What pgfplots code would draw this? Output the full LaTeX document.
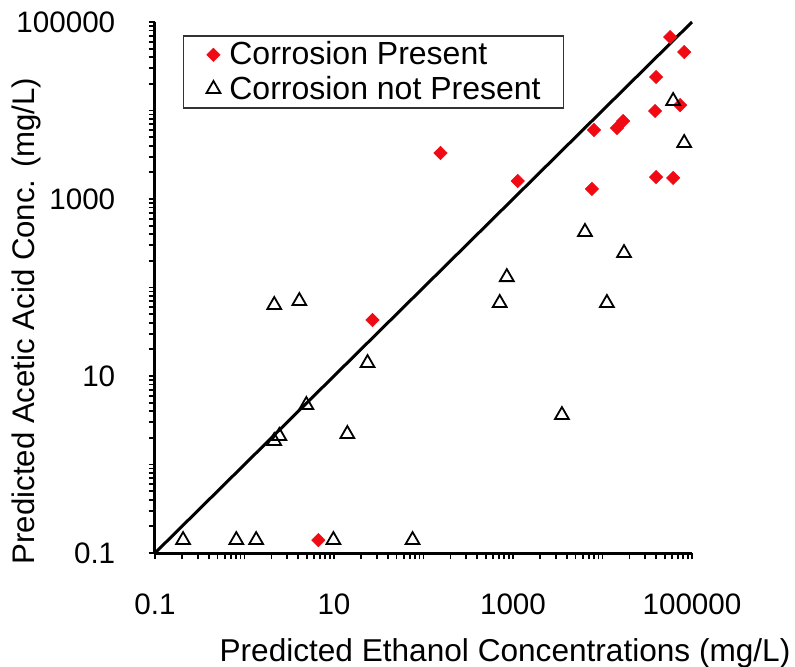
\documentclass[border=0pt]{standalone}
\usepackage{fontspec}
\setmainfont{Liberation Sans}
\usepackage{pgfplots}
\pgfplotsset{compat=1.18}
\definecolor{cred}{RGB}{240,10,20}
\begin{document}
\begin{tikzpicture}
\begin{axis}[
  name=ax,
  scale only axis,
  width=268.5bp, height=265.5bp,
  xmode=log, ymode=log,
  xmin=0.1, xmax=100000, ymin=0.1, ymax=100000,
  axis lines=left,
  axis line style={line width=1.5bp, -},
  clip=false,
  tick align=outside,
  major tick length=3.2bp, minor tick length=3.2bp,
  tick style={black, line width=0.9bp},
  xtick={0.1,1,10,100,1000,10000,100000},
  ytick={0.1,1,10,100,1000,10000,100000},
  xticklabels={0.1,,10,,1000,,100000},
  yticklabels={0.1,,10,,1000,,100000},
  minor xtick={0.2,0.3,0.4,0.5,0.6,0.7,0.8,0.9,2,3,4,5,6,7,8,9,20,30,40,50,60,70,80,90,200,300,400,500,600,700,800,900,2000,3000,4000,5000,6000,7000,8000,9000,20000,30000,40000,50000,60000,70000,80000,90000},
  minor ytick={0.2,0.3,0.4,0.5,0.6,0.7,0.8,0.9,2,3,4,5,6,7,8,9,20,30,40,50,60,70,80,90,200,300,400,500,600,700,800,900,2000,3000,4000,5000,6000,7000,8000,9000,20000,30000,40000,50000,60000,70000,80000,90000},
  tick label style={font=\fontsize{14.8bp}{17bp}\selectfont},
  xticklabel style={anchor=north, inner sep=0pt, yshift=-17bp},
  yticklabel style={anchor=east, inner sep=0pt, xshift=-16.5bp},
  xlabel={Predicted Ethanol Concentrations (mg/L)},
  ylabel={Predicted Acetic Acid Conc. (mg/L)},
  xlabel style={font=\fontsize{15.8bp}{18bp}\selectfont, at={(axis description cs:0.6518,-0.2034)}, anchor=base},
  ylabel style={font=\fontsize{15.6bp}{18bp}\selectfont, at={(axis description cs:-0.2235,0.4369)}, anchor=base},
  legend style={at={(axis description cs:0.0521,0.9755)}, anchor=north west,
    draw=black!80, line width=0.75bp, font=\fontsize{16bp}{18bp}\selectfont,
    inner xsep=9.5bp, inner ysep=1bp, row sep=0bp,
    /tikz/every odd column/.append style={column sep=2.5bp}},
  legend cell align=left,
  legend image code/.code={\path (-5bp,0bp) (0bp,0bp); \draw[#1] plot coordinates {(0bp,0bp)};},
]
\addplot[only marks, mark=square*, mark size=2.35bp, mark options={rotate=45, fill=cred, draw=cred, line width=0.3bp}] coordinates {
(57000,67600) (81800,45800) (39700,23900) (73800,11500) (38700,9870)
(14500,6340) (17000,7610) (8030,6020) (39700,1770) (61600,1730)
(7630,1300) (1130,1600) (155,3310) (26.9,42.9) (6.69,0.14)
};
\addlegendentry{Corrosion Present}
\addplot[only marks, mark=triangle, mark size=4bp, mark options={draw=black, line width=0.9bp, fill=none}] coordinates {
(61600,12800) (81800,4290) (6370,424) (17400,245) (853,131)
(711,66.8) (11200,66.8) (3520,3.62) (2.15,63.4) (4.10,70.3)
(23.7,14.0) (4.91,4.70) (2.15,1.84) (2.45,2.10) (14.1,2.21)
(0.206,0.14) (0.81,0.14) (1.35,0.14) (9.85,0.14) (75.5,0.14)
};
\addlegendentry{Corrosion not Present}
\addplot[forget plot, black, line width=1.5bp, no marks] coordinates {(0.1,0.1) (100000,100000)};
\end{axis}
\pgfresetboundingbox
\path[use as bounding box] ([xshift=-77.5bp,yshift=-57bp]ax.south west) rectangle ([xshift=320bp,yshift=276.5bp]ax.south west);
\end{tikzpicture}
\end{document}
